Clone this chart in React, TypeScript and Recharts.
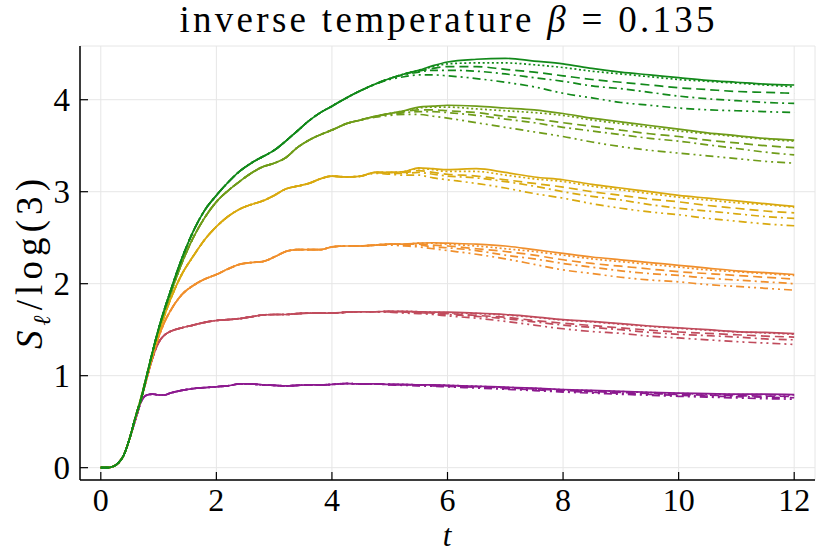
import { CartesianGrid, Line, LineChart, XAxis, YAxis } from 'recharts'

// time grid (finer at the start where the curves rise fast)
const T = [
  0, 0.1, 0.2, 0.3, 0.4, 0.5, 0.6, 0.7, 0.8, 0.9, 1.0, 1.1, 1.2, 1.4, 1.6, 1.8,
  2.0, 2.2, 2.4, 2.6, 2.8, 3.0, 3.2, 3.4, 3.6, 3.8, 4.0, 4.25, 4.5, 4.75, 5,
  5.25, 5.5, 5.75, 6, 6.5, 7, 7.5, 8, 8.5, 9, 9.5, 10, 10.5, 11, 11.5, 12,
]
// the dashed / dotted variants only split from the solid curve after this time
const TAIL_START = 4.5

const X_TICKS = [0, 2, 4, 6, 8, 10, 12]
const Y_TICKS = [0, 1, 2, 3, 4]

// solid curves, one per subsystem size
const purple = [
  0, 0, 0.01, 0.05, 0.14, 0.32, 0.52, 0.72, 0.79, 0.8, 0.79, 0.79, 0.81, 0.84,
  0.86, 0.87, 0.88, 0.89, 0.91, 0.91, 0.9, 0.895, 0.89, 0.895, 0.9, 0.9, 0.905,
  0.915, 0.91, 0.91, 0.905, 0.905, 0.9, 0.9, 0.895, 0.885, 0.875, 0.865, 0.85,
  0.84, 0.83, 0.82, 0.81, 0.805, 0.8, 0.8, 0.795,
]
const red = [
  0, 0, 0.01, 0.05, 0.14, 0.32, 0.54, 0.75, 0.98, 1.2, 1.36, 1.44, 1.48, 1.52,
  1.55, 1.58, 1.6, 1.61, 1.62, 1.64, 1.66, 1.665, 1.665, 1.675, 1.68, 1.68, 1.68,
  1.69, 1.695, 1.695, 1.7, 1.7, 1.695, 1.69, 1.69, 1.68, 1.665, 1.64, 1.61, 1.59,
  1.565, 1.54, 1.52, 1.5, 1.48, 1.47, 1.457,
]
const orange = [
  0, 0, 0.01, 0.05, 0.14, 0.32, 0.54, 0.75, 0.99, 1.22, 1.42, 1.58, 1.7, 1.88,
  1.98, 2.05, 2.1, 2.16, 2.21, 2.23, 2.24, 2.29, 2.35, 2.37, 2.37, 2.37, 2.4,
  2.41, 2.41, 2.42, 2.43, 2.43, 2.44, 2.445, 2.44, 2.43, 2.41, 2.37, 2.33, 2.29,
  2.26, 2.23, 2.2, 2.17, 2.14, 2.12, 2.1,
]
const gold = [
  0, 0, 0.01, 0.05, 0.14, 0.32, 0.55, 0.76, 1.0, 1.24, 1.46, 1.65, 1.82, 2.1,
  2.3, 2.48, 2.62, 2.73, 2.81, 2.86, 2.9, 2.96, 3.03, 3.06, 3.09, 3.14, 3.17,
  3.16, 3.17, 3.21, 3.21, 3.22, 3.26, 3.25, 3.24, 3.25, 3.21, 3.16, 3.13, 3.08,
  3.04, 3.0, 2.96, 2.93, 2.9, 2.87, 2.84,
]
const olive = [
  0, 0, 0.01, 0.05, 0.14, 0.32, 0.55, 0.77, 1.02, 1.27, 1.5, 1.7, 1.88, 2.22,
  2.5, 2.72, 2.89, 3.01, 3.11, 3.2, 3.27, 3.31, 3.37, 3.48, 3.56, 3.62, 3.67,
  3.74, 3.78, 3.82, 3.85, 3.88, 3.92, 3.93, 3.94, 3.93, 3.91, 3.89, 3.85, 3.8,
  3.76, 3.72, 3.68, 3.64, 3.61, 3.58, 3.56,
]
const green = [
  0, 0, 0.01, 0.05, 0.14, 0.32, 0.55, 0.75, 1.01, 1.27, 1.51, 1.72, 1.91, 2.27,
  2.57, 2.8, 2.96, 3.1, 3.22, 3.31, 3.38, 3.45, 3.55, 3.66, 3.77, 3.86, 3.93,
  4.02, 4.1, 4.17, 4.23, 4.28, 4.32, 4.37, 4.41, 4.44, 4.45, 4.42, 4.39, 4.34,
  4.3, 4.27, 4.24, 4.21, 4.19, 4.17, 4.16,
]

// variants from t = 4.5 on: dotted, dashed, dash-dot, dash-dot-dot
const purpleDot = [0.91, 0.91, 0.905, 0.905, 0.9, 0.9, 0.895, 0.885, 0.873, 0.862, 0.848, 0.837, 0.827, 0.817, 0.807, 0.8, 0.795, 0.793, 0.79]
const purpleDash = [0.91, 0.91, 0.905, 0.9, 0.9, 0.895, 0.89, 0.88, 0.867, 0.855, 0.84, 0.828, 0.817, 0.806, 0.796, 0.789, 0.783, 0.778, 0.775]
const purpleDashDot = [0.91, 0.91, 0.905, 0.9, 0.895, 0.89, 0.885, 0.873, 0.86, 0.847, 0.832, 0.82, 0.808, 0.797, 0.787, 0.779, 0.772, 0.766, 0.76]
const purpleDashDotDot = [0.91, 0.91, 0.9, 0.895, 0.89, 0.885, 0.878, 0.865, 0.852, 0.838, 0.822, 0.81, 0.798, 0.787, 0.776, 0.767, 0.758, 0.75, 0.745]

const redDot = [1.695, 1.695, 1.7, 1.7, 1.695, 1.69, 1.685, 1.675, 1.66, 1.635, 1.605, 1.585, 1.56, 1.535, 1.515, 1.495, 1.475, 1.465, 1.45]
const redDash = [1.695, 1.695, 1.7, 1.695, 1.69, 1.68, 1.675, 1.655, 1.635, 1.6, 1.57, 1.545, 1.52, 1.495, 1.475, 1.46, 1.445, 1.43, 1.42]
const redDashDot = [1.695, 1.695, 1.695, 1.69, 1.685, 1.675, 1.665, 1.645, 1.62, 1.585, 1.55, 1.525, 1.5, 1.47, 1.45, 1.435, 1.42, 1.4, 1.39]
const redDashDotDot = [1.695, 1.695, 1.69, 1.68, 1.675, 1.665, 1.65, 1.625, 1.59, 1.55, 1.51, 1.48, 1.46, 1.43, 1.41, 1.39, 1.37, 1.355, 1.34]

const orangeDot = [2.41, 2.42, 2.43, 2.43, 2.44, 2.44, 2.43, 2.41, 2.38, 2.35, 2.31, 2.27, 2.24, 2.21, 2.18, 2.15, 2.13, 2.11, 2.09]
const orangeDash = [2.41, 2.42, 2.43, 2.43, 2.43, 2.42, 2.41, 2.38, 2.35, 2.31, 2.26, 2.22, 2.19, 2.16, 2.13, 2.11, 2.09, 2.07, 2.05]
const orangeDashDot = [2.41, 2.42, 2.43, 2.42, 2.42, 2.4, 2.39, 2.36, 2.31, 2.27, 2.22, 2.18, 2.14, 2.11, 2.09, 2.06, 2.04, 2.02, 2.0]
const orangeDashDotDot = [2.41, 2.42, 2.42, 2.41, 2.4, 2.38, 2.36, 2.32, 2.27, 2.21, 2.15, 2.11, 2.07, 2.04, 2.02, 1.99, 1.97, 1.95, 1.93]

const goldDot = [3.17, 3.21, 3.21, 3.22, 3.25, 3.24, 3.22, 3.22, 3.18, 3.14, 3.11, 3.06, 3.02, 2.98, 2.94, 2.91, 2.88, 2.86, 2.83]
const goldDash = [3.17, 3.21, 3.21, 3.21, 3.23, 3.21, 3.19, 3.17, 3.13, 3.09, 3.05, 3.0, 2.96, 2.92, 2.89, 2.85, 2.82, 2.79, 2.77]
const goldDashDot = [3.17, 3.21, 3.2, 3.2, 3.21, 3.19, 3.17, 3.15, 3.11, 3.06, 3.0, 2.95, 2.91, 2.86, 2.82, 2.79, 2.76, 2.73, 2.71]
const goldDashDotDot = [3.17, 3.2, 3.19, 3.18, 3.18, 3.15, 3.13, 3.09, 3.04, 2.98, 2.93, 2.87, 2.82, 2.78, 2.75, 2.71, 2.68, 2.65, 2.63]

const oliveDot = [3.78, 3.82, 3.85, 3.88, 3.91, 3.92, 3.92, 3.9, 3.88, 3.86, 3.83, 3.78, 3.74, 3.7, 3.66, 3.63, 3.6, 3.57, 3.55]
const oliveDash = [3.78, 3.82, 3.85, 3.87, 3.89, 3.89, 3.88, 3.86, 3.82, 3.79, 3.75, 3.71, 3.67, 3.63, 3.6, 3.56, 3.53, 3.5, 3.48]
const oliveDashDot = [3.78, 3.82, 3.84, 3.86, 3.87, 3.87, 3.86, 3.83, 3.79, 3.75, 3.7, 3.66, 3.62, 3.58, 3.55, 3.51, 3.47, 3.43, 3.4]
const oliveDashDotDot = [3.78, 3.81, 3.83, 3.84, 3.84, 3.82, 3.8, 3.75, 3.7, 3.65, 3.6, 3.54, 3.49, 3.45, 3.42, 3.39, 3.36, 3.33, 3.31]

const greenDot = [4.1, 4.17, 4.23, 4.28, 4.32, 4.36, 4.39, 4.4, 4.4, 4.38, 4.35, 4.31, 4.28, 4.25, 4.22, 4.2, 4.18, 4.16, 4.14]
const greenDash = [4.1, 4.17, 4.23, 4.28, 4.31, 4.34, 4.36, 4.36, 4.33, 4.3, 4.26, 4.22, 4.19, 4.16, 4.13, 4.11, 4.09, 4.08, 4.07]
const greenDashDot = [4.1, 4.17, 4.23, 4.27, 4.3, 4.32, 4.32, 4.31, 4.28, 4.24, 4.2, 4.15, 4.12, 4.08, 4.04, 4.01, 3.99, 3.97, 3.96]
const greenDashDotDot = [4.1, 4.17, 4.22, 4.25, 4.27, 4.27, 4.26, 4.23, 4.19, 4.14, 4.07, 4.02, 3.97, 3.94, 3.91, 3.89, 3.88, 3.87, 3.86]

const GROUPS = [
  { key: 'purple', color: '#8c1a8f', solid: purple, tails: [purpleDot, purpleDash, purpleDashDot, purpleDashDotDot] },
  { key: 'red', color: '#c04b5c', solid: red, tails: [redDot, redDash, redDashDot, redDashDotDot] },
  { key: 'orange', color: '#f08f2c', solid: orange, tails: [orangeDot, orangeDash, orangeDashDot, orangeDashDotDot] },
  { key: 'gold', color: '#d9a90f', solid: gold, tails: [goldDot, goldDash, goldDashDot, goldDashDotDot] },
  { key: 'olive', color: '#6f9c19', solid: olive, tails: [oliveDot, oliveDash, oliveDashDot, oliveDashDotDot] },
  { key: 'green', color: '#12891a', solid: green, tails: [greenDot, greenDash, greenDashDot, greenDashDotDot] },
]

// solid, dotted, dashed, dash-dot, dash-dot-dot
const DASHES = [undefined, '2 2.6', '9 5', '8 4 2 4', '8 4 2 4 2 4']

const FONT = '"Liberation Serif", "DejaVu Serif", serif'

export default function App() {
  const tailIdx = T.indexOf(TAIL_START)

  const data = T.map((t, i) => {
    const row: Record<string, number> = { t }
    for (const g of GROUPS) {
      row[`${g.key}0`] = g.solid[i]
      g.tails.forEach((tail, j) => {
        row[`${g.key}${j + 1}`] = i < tailIdx ? g.solid[i] : tail[i - tailIdx]
      })
    }
    return row
  })

  return (
    <div style={{ position: 'absolute', left: 0, top: 0, width: 830, height: 554, background: '#fff' }}>
      <LineChart
        width={830}
        height={554}
        data={data}
        margin={{ top: 46, right: 15, bottom: 0, left: 0 }}
      >
        <CartesianGrid stroke="#e6e6e6" strokeWidth={1} />
        <XAxis
          dataKey="t"
          type="number"
          domain={[-0.36, 12.36]}
          ticks={X_TICKS}
          interval={0}
          allowDataOverflow
          height={74}
          tickSize={-8}
          tickMargin={16}
          axisLine={{ stroke: '#000', strokeWidth: 1.5 }}
          tickLine={{ stroke: '#000', strokeWidth: 1.2 }}
          tick={{ fill: '#000', fontSize: 32, fontFamily: FONT }}
        />
        <YAxis
          type="number"
          domain={[-0.134, 4.584]}
          ticks={Y_TICKS}
          interval={0}
          allowDataOverflow
          width={80}
          tickSize={-8}
          tickMargin={18}
          axisLine={{ stroke: '#000', strokeWidth: 1.5 }}
          tickLine={{ stroke: '#000', strokeWidth: 1.2 }}
          tick={{ fill: '#000', fontSize: 33, fontFamily: FONT }}
        />
        {GROUPS.flatMap((g) =>
          DASHES.map((d, j) => (
            <Line
              key={`${g.key}${j}`}
              type="monotone"
              dataKey={`${g.key}${j}`}
              stroke={g.color}
              strokeWidth={1.7}
              strokeDasharray={d}
              dot={false}
              activeDot={false}
              isAnimationActive={false}
            />
          ))
        )}
      </LineChart>
      <svg
        width={830}
        height={554}
        style={{ position: 'absolute', left: 0, top: 0, pointerEvents: 'none' }}
        fontFamily={FONT}
      >
        <text
          x={447}
          y={32}
          textAnchor="middle"
          fontSize={37}
          textLength={535}
          lengthAdjust="spacing"
        >
          inverse temperature <tspan fontStyle="italic">β</tspan> = 0.135
        </text>
        <text x={447} y={546} textAnchor="middle" fontSize={31} fontStyle="italic">
          t
        </text>
        <text
          transform="translate(42, 264) rotate(-90)"
          textAnchor="middle"
          fontSize={37}
          textLength={170}
          lengthAdjust="spacing"
        >
          <tspan fontStyle="italic">S</tspan>
          <tspan fontStyle="italic" fontSize={24} dy={8}>ℓ</tspan>
          <tspan dy={-8}>/log(3)</tspan>
        </text>
      </svg>
    </div>
  )
}
